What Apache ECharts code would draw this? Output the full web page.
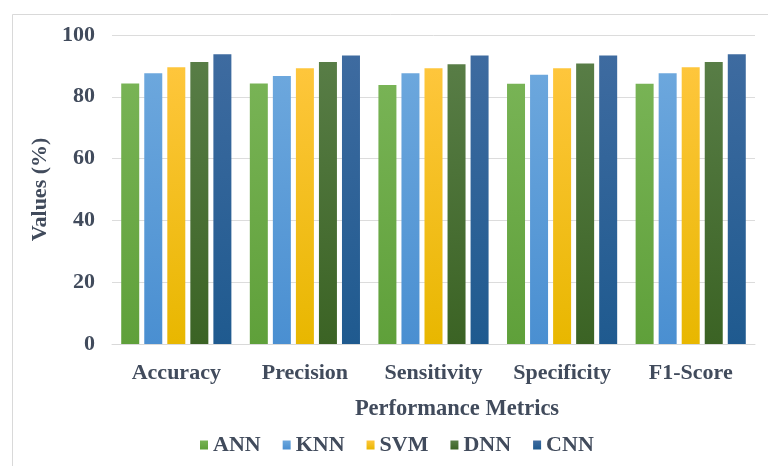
<!DOCTYPE html>
<html>
<head>
<meta charset="utf-8">
<script src="https://cdn.jsdelivr.net/npm/echarts@6/dist/echarts.min.js"></script>
<style>html,body{margin:0;padding:0;background:#fff;}#c{width:768px;height:466px;}</style>
</head>
<body>
<div id="c"></div>
<script>
const categories = ['Accuracy', 'Precision', 'Sensitivity', 'Specificity', 'F1-Score'];
const seriesNames = ['ANN', 'KNN', 'SVM', 'DNN', 'CNN'];
const ann = [84.3, 84.3, 83.8, 84.2, 84.2];
const knn = [87.6, 86.7, 87.6, 87.1, 87.6];
const svm = [89.6, 89.2, 89.2, 89.2, 89.6];
const dnn = [91.3, 91.3, 90.5, 90.8, 91.3];
const cnn = [93.8, 93.4, 93.4, 93.4, 93.8];
const yTicks = [0, 20, 40, 60, 80, 100];

const values = [ann, knn, svm, dnn, cnn];
const colorsTop = ['#78b355', '#6ca7dd', '#fec63c', '#587d46', '#3e6ba0'];
const colorsBot = ['#5fa03a', '#4a8fd1', '#e8b700', '#3b6324', '#1f5a8f'];
const solid = ['#70ad47', '#5b9bd5', '#ffc000', '#43682b', '#255e91'];
const txt = '#414b5c';
const font = '"Liberation Serif", "Times New Roman", serif';

const chart = echarts.init(document.getElementById('c'), null, {renderer: 'canvas'});
chart.setOption({
  animation: false,
  backgroundColor: '#fff',
  graphic: [{
    type: 'rect', left: 10, top: 12,
    shape: {width: 800, height: 500},
    style: {fill: 'none', stroke: '#d9d9d9', lineWidth: 1},
    silent: true, z: -10
  }],
  title: {
    text: 'Performance Metrics',
    left: 452, top: 393, textAlign: 'center',
    textStyle: {fontFamily: font, fontWeight: 'bold', fontSize: 22.5, color: txt}
  },
  legend: {
    data: seriesNames,
    left: 195, top: 429,
    itemWidth: 8, itemHeight: 9, itemGap: 22,
    icon: 'rect',
    textStyle: {fontFamily: font, fontWeight: 'bold', fontSize: 22, color: txt}
  },
  grid: {left: 112, right: 13, top: 35, bottom: 122, containLabel: false},
  xAxis: {
    type: 'category',
    data: categories,
    axisLine: {lineStyle: {color: '#d9d9d9', width: 1}},
    axisTick: {show: false},
    axisLabel: {fontFamily: font, fontWeight: 'bold', fontSize: 22, color: txt, margin: 18}
  },
  yAxis: {
    type: 'value',
    min: 0, max: 100, interval: 20,
    name: 'Values (%)',
    nameLocation: 'middle',
    nameGap: 58,
    nameTextStyle: {fontFamily: font, fontWeight: 'bold', fontSize: 22, color: txt},
    axisLine: {show: false},
    axisTick: {show: false},
    splitLine: {lineStyle: {color: '#dcdcdc', width: 1}},
    axisLabel: {
      fontFamily: font, fontWeight: 'bold', fontSize: 22, color: txt, margin: 17,
      formatter: v => yTicks.includes(v) ? String(v) : ''
    }
  },
  series: seriesNames.map((n, i) => ({
    name: n,
    type: 'bar',
    data: values[i],
    barWidth: 18,
    barGap: '28%',
    color: solid[i],
    itemStyle: {
      color: new echarts.graphic.LinearGradient(0, 0, 0, 1, [
        {offset: 0, color: colorsTop[i]},
        {offset: 1, color: colorsBot[i]}
      ])
    }
  }))
});
</script>
</body>
</html>
